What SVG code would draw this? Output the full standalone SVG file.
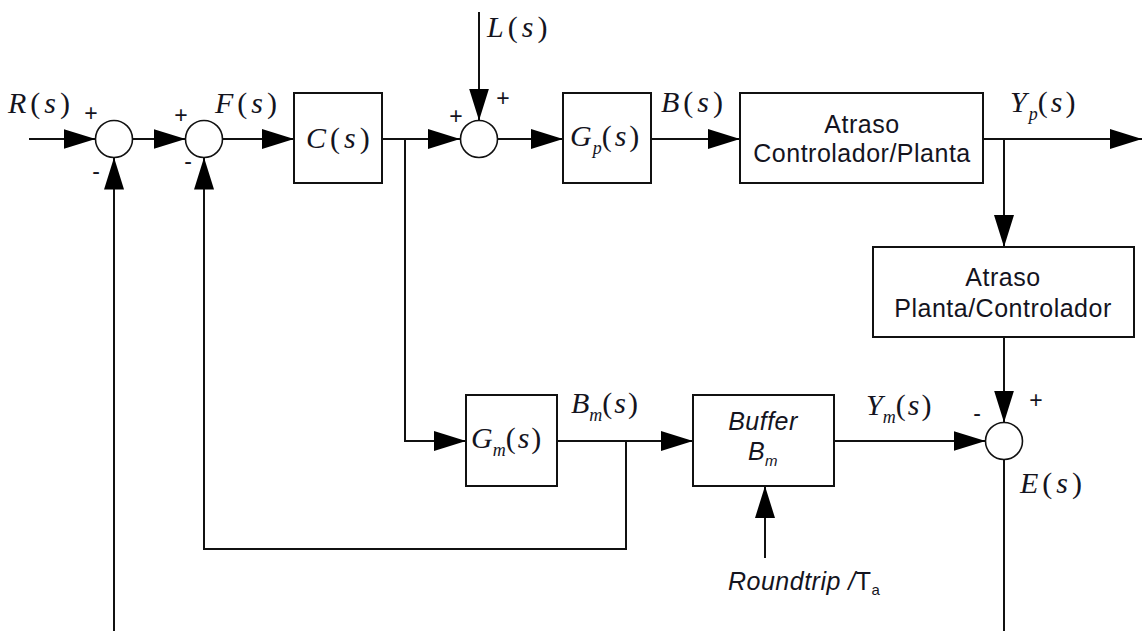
<svg xmlns="http://www.w3.org/2000/svg" width="1146" height="631" viewBox="0 0 1146 631">
<style>
.ln{fill:none;stroke:#111;stroke-width:2}
.bx{fill:#fff;stroke:#111;stroke-width:2}
.sj{fill:#fff;stroke:#111;stroke-width:1.6}
.m{font-family:"Liberation Serif",serif;font-style:italic;font-size:30px;fill:#14141e}
.p{font-style:normal}
.sb{font-size:18px}
.s{font-family:"Liberation Sans",sans-serif;font-size:25px;fill:#14141e;text-anchor:middle;letter-spacing:0.5px}
.it{font-style:italic}
.sg{font-family:"Liberation Sans",sans-serif;font-size:23px;fill:#14141e;text-anchor:middle}
</style>
<defs>
<marker id="ah" markerUnits="userSpaceOnUse" markerWidth="34" markerHeight="24" refX="32" refY="11" orient="auto">
<path d="M0,1 L32,11 L0,21 z" fill="#000"/>
</marker>
</defs>
<rect width="1146" height="631" fill="#fff"/>
<g id="connectors">
<path class="ln" d="M29,139 H95.5" marker-end="url(#ah)"/>
<path class="ln" d="M132.5,139 H185.5" marker-end="url(#ah)"/>
<path class="ln" d="M222.5,139 H294" marker-end="url(#ah)"/>
<path class="ln" d="M382,139 H460" marker-end="url(#ah)"/>
<path class="ln" d="M479,12 V120.5" marker-end="url(#ah)"/>
<path class="ln" d="M497,139 H563" marker-end="url(#ah)"/>
<path class="ln" d="M651,139 H740" marker-end="url(#ah)"/>
<path class="ln" d="M983,139 H1142" marker-end="url(#ah)"/>
<path class="ln" d="M1004,139 V247" marker-end="url(#ah)"/>
<path class="ln" d="M1004,337 V422.5" marker-end="url(#ah)"/>
<path class="ln" d="M1004,459.5 V631"/>
<path class="ln" d="M405,139 V441 H466" marker-end="url(#ah)"/>
<path class="ln" d="M557,441 H693" marker-end="url(#ah)"/>
<path class="ln" d="M626,441 V549 H204 V157.5" marker-end="url(#ah)"/>
<path class="ln" d="M834,441 H985.5" marker-end="url(#ah)"/>
<path class="ln" d="M765,558 V486" marker-end="url(#ah)"/>
<path class="ln" d="M114,631 V157.5" marker-end="url(#ah)"/>
</g>
<g id="sum1">
<circle class="sj" cx="114" cy="139" r="18.5"/>
<text class="sg" x="91" y="121">+</text>
<text class="sg" x="96" y="179">-</text>
</g>
<g id="sum2">
<circle class="sj" cx="204" cy="139" r="18.5"/>
<text class="sg" x="181" y="123">+</text>
<text class="sg" x="188" y="169">-</text>
</g>
<g id="sum3">
<circle class="sj" cx="479" cy="139" r="18.5"/>
<text class="sg" x="456" y="124">+</text>
<text class="sg" x="503" y="106">+</text>
</g>
<g id="sum4">
<circle class="sj" cx="1004" cy="441" r="18.5"/>
<text class="sg" x="977" y="421">-</text>
<text class="sg" x="1036" y="408">+</text>
</g>
<g id="C">
<rect class="bx" x="294" y="93" width="88" height="90"/>
<text class="m" x="306" y="148">C<tspan class="p" dx="4">(</tspan><tspan dx="4">s</tspan><tspan class="p" dx="4">)</tspan></text>
</g>
<g id="Gp">
<rect class="bx" x="563" y="93" width="88" height="90"/>
<text class="m" x="570" y="146">G<tspan class="sb" dx="1" dy="8">p</tspan><tspan class="p" dy="-8">(</tspan><tspan dx="3">s</tspan><tspan class="p" dx="3">)</tspan></text>
</g>
<g id="atraso1">
<rect class="bx" x="740" y="93" width="243" height="90"/>
<text class="s" x="862" y="133">Atraso</text>
<text class="s" x="862" y="162">Controlador/Planta</text>
</g>
<g id="atraso2">
<rect class="bx" x="873" y="247" width="261" height="90"/>
<text class="s" x="1003" y="286">Atraso</text>
<text class="s" x="1003" y="317">Planta/Controlador</text>
</g>
<g id="Gm">
<rect class="bx" x="466" y="395" width="91" height="91"/>
<text class="m" x="471" y="448">G<tspan class="sb" dy="8">m</tspan><tspan class="p" dy="-8">(</tspan><tspan dx="2">s</tspan><tspan class="p" dx="2">)</tspan></text>
</g>
<g id="buffer">
<rect class="bx" x="693" y="395" width="141" height="91"/>
<text class="s it" x="763" y="430">Buffer</text>
<text class="s it" x="763" y="460">B<tspan style="font-size:15px" dy="6">m</tspan></text>
</g>
<g id="labels">
<text class="m" x="8" y="113">R<tspan class="p" dx="4">(</tspan><tspan dx="4">s</tspan><tspan class="p" dx="4">)</tspan></text>
<text class="m" x="215" y="113">F<tspan class="p" dx="4">(</tspan><tspan dx="4">s</tspan><tspan class="p" dx="4">)</tspan></text>
<text class="m" x="487" y="37">L<tspan class="p" dx="4">(</tspan><tspan dx="4">s</tspan><tspan class="p" dx="4">)</tspan></text>
<text class="m" x="661" y="112">B<tspan class="p" dx="4">(</tspan><tspan dx="4">s</tspan><tspan class="p" dx="4">)</tspan></text>
<text class="m" x="1010" y="112">Y<tspan class="sb" dx="2" dy="8">p</tspan><tspan class="p" dy="-8">(</tspan><tspan dx="3">s</tspan><tspan class="p" dx="3">)</tspan></text>
<text class="m" x="571" y="413">B<tspan class="sb" dy="8">m</tspan><tspan class="p" dy="-8">(</tspan><tspan dx="2">s</tspan><tspan class="p" dx="2">)</tspan></text>
<text class="m" x="866" y="415">Y<tspan class="sb" dy="8">m</tspan><tspan class="p" dy="-8">(</tspan><tspan dx="2">s</tspan><tspan class="p" dx="2">)</tspan></text>
<text class="m" x="1020" y="493">E<tspan class="p" dx="4">(</tspan><tspan dx="4">s</tspan><tspan class="p" dx="4">)</tspan></text>
<text class="s" x="728" y="590" style="text-anchor:start"><tspan class="it">Roundtrip /</tspan>T<tspan style="font-size:15px" dy="5">a</tspan></text>
</g>
</svg>
